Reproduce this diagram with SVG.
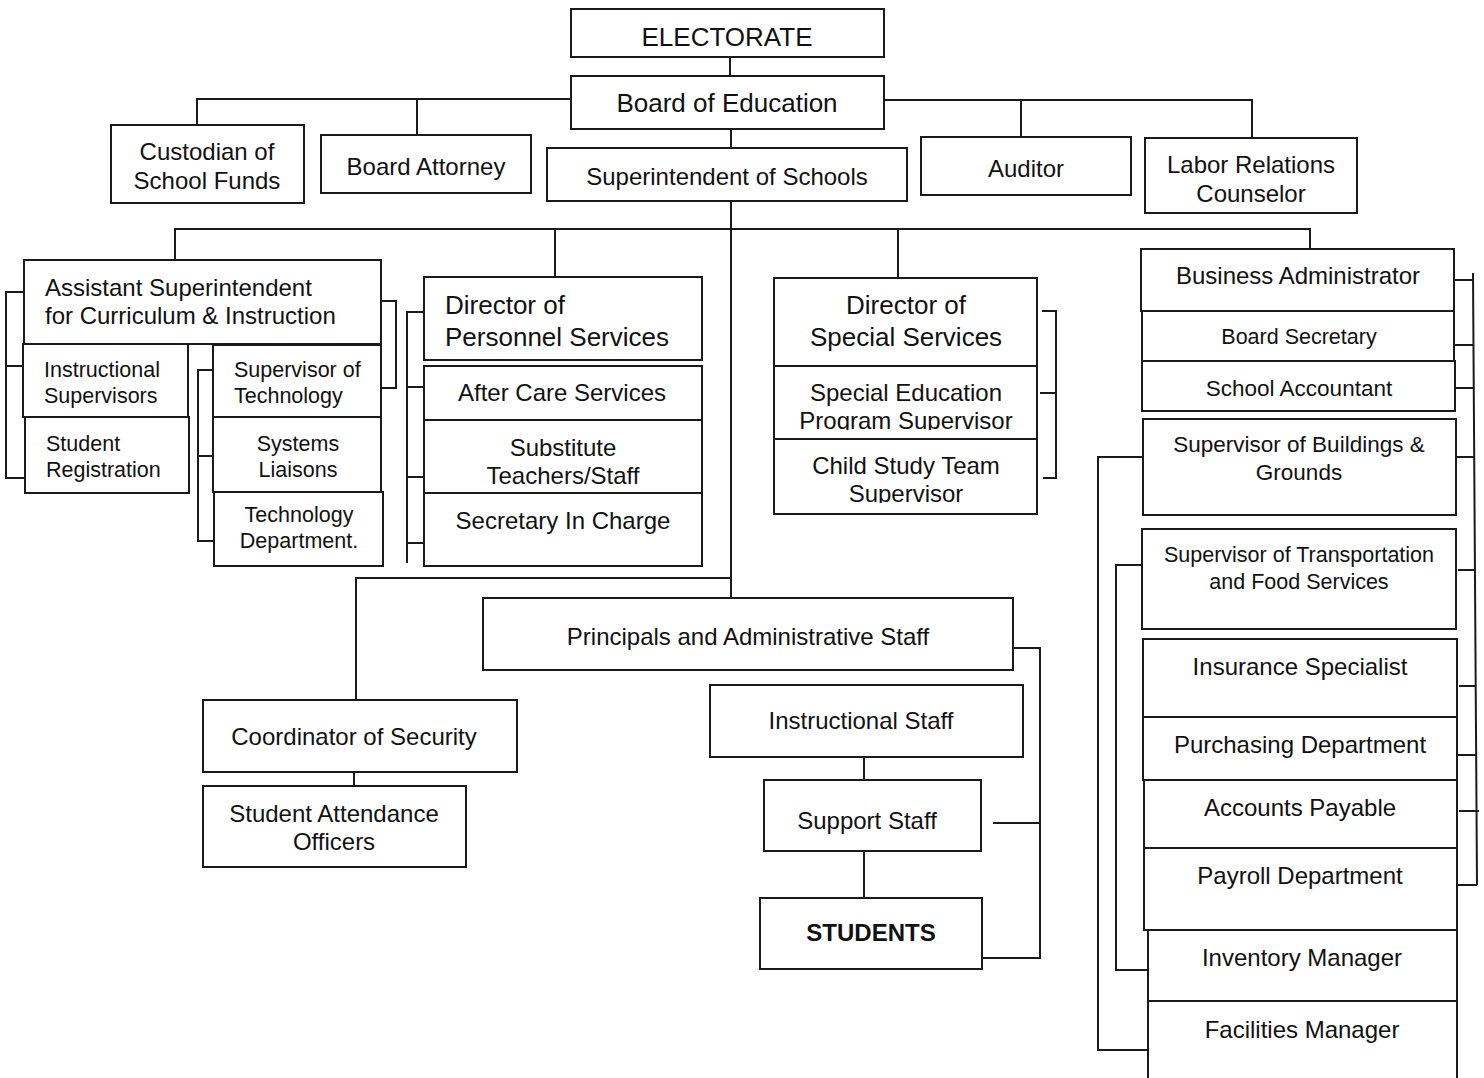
<svg xmlns="http://www.w3.org/2000/svg" width="1484" height="1078" viewBox="0 0 1484 1078">
<style>
.box{fill:#fff;stroke:#1a1a1a;stroke-width:2}
.ln{fill:none;stroke:#1a1a1a;stroke-width:2}
text{font-family:"Liberation Sans",Arial,sans-serif;fill:#111;text-anchor:middle}
.t26{font-size:26px}
.t24{font-size:24px}
.t22{font-size:22.5px}
.t21{font-size:21.5px}
.l{text-anchor:start}
.b{font-weight:bold}
</style>
<defs>
<clipPath id="clipSE"><rect x="775" y="367" width="261" height="63"/></clipPath>
<clipPath id="clipCS"><rect x="775" y="440" width="261" height="63"/></clipPath>
</defs>
<rect width="1484" height="1078" fill="#fff"/>
<g id="connectors" class="ln">
<path d="M730 57V76"/>
<path d="M571 99H197V125M417 99V135"/>
<path d="M884 100H1252V138M1021 100V137"/>
<path d="M731 129V148"/>
<path d="M731 201V598"/>
<path d="M175 260V229H1310V249M555 229V277M898 229V278"/>
<path d="M731 578H356V700"/>
<path d="M354 772V786"/>
<path d="M24 292H6V478H25M6 366H23"/>
<path d="M213 370H198V541H214M198 456H213"/>
<path d="M381 301H396V388H381"/>
<path d="M424 312H407V563M407 387H424M407 477H424M407 543H424"/>
<path d="M1042 311H1056V478H1043M1040 393H1056"/>
<path d="M1473 273L1477 885M1454 280H1473M1455 345H1474M1455 388H1474M1456 457H1474M1458 570H1475M1459 686H1476M1457 755H1476M1459 811H1479M1457 885H1477"/>
<path d="M1143 457H1098V1050H1148"/>
<path d="M1142 565H1116V970H1148"/>
<path d="M1013 648H1040V958H983M993 823H1040"/>
<path d="M864 757V780M864 851V898"/>
</g>
<g id="electorate"><rect class="box" x="571" y="9" width="313" height="48"/><text class="t26" x="727" y="46">ELECTORATE</text></g>
<g id="board"><rect class="box" x="571" y="76" width="313" height="53"/><text class="t26" x="727" y="112">Board of Education</text></g>
<g id="custodian"><rect class="box" x="111" y="125" width="193" height="78"/><text class="t24" x="207" y="160">Custodian of</text><text class="t24" x="207" y="189">School Funds</text></g>
<g id="attorney"><rect class="box" x="321" y="135" width="210" height="58"/><text class="t24" x="426" y="175">Board Attorney</text></g>
<g id="superintendent"><rect class="box" x="547" y="148" width="360" height="53"/><text class="t24" x="727" y="185">Superintendent of Schools</text></g>
<g id="auditor"><rect class="box" x="921" y="137" width="210" height="58"/><text class="t24" x="1026" y="177">Auditor</text></g>
<g id="labor"><rect class="box" x="1145" y="138" width="212" height="75"/><text class="t24" x="1251" y="173">Labor Relations</text><text class="t24" x="1251" y="202">Counselor</text></g>

<g id="asst-super"><rect class="box" x="24" y="260" width="357" height="84"/><text class="t24 l" x="45" y="296">Assistant Superintendent</text><text class="t24 l" x="45" y="324">for Curriculum &amp; Instruction</text></g>
<g id="instr-supervisors"><rect class="box" x="23" y="344" width="165" height="73"/><text class="t21 l" x="44" y="377">Instructional</text><text class="t21 l" x="44" y="403">Supervisors</text></g>
<g id="student-registration"><rect class="box" x="25" y="417" width="164" height="76"/><text class="t21 l" x="46" y="451">Student</text><text class="t21 l" x="46" y="477">Registration</text></g>
<g id="sup-technology"><rect class="box" x="213" y="345" width="168" height="72"/><text class="t21 l" x="234" y="377">Supervisor of</text><text class="t21 l" x="234" y="403">Technology</text></g>
<g id="systems-liaisons"><rect class="box" x="213" y="417" width="168" height="75"/><text class="t21" x="298" y="451">Systems</text><text class="t21" x="298" y="477">Liaisons</text></g>
<g id="tech-dept"><rect class="box" x="214" y="492" width="169" height="74"/><text class="t21" x="299" y="522">Technology</text><text class="t21" x="299" y="548">Department.</text></g>

<g id="dir-personnel"><rect class="box" x="424" y="277" width="278" height="83"/><text class="t26 l" x="445" y="314">Director of</text><text class="t26 l" x="445" y="346">Personnel Services</text></g>
<g id="after-care"><rect class="box" x="424" y="366" width="278" height="54"/><text class="t24" x="562" y="401">After Care Services</text></g>
<g id="substitute"><rect class="box" x="424" y="420" width="278" height="73"/><text class="t24" x="563" y="456">Substitute</text><text class="t24" x="563" y="484">Teachers/Staff</text></g>
<g id="secretary-charge"><rect class="box" x="424" y="493" width="278" height="73"/><text class="t24" x="563" y="529">Secretary In Charge</text></g>

<g id="dir-special"><rect class="box" x="774" y="278" width="263" height="88"/><text class="t26" x="906" y="314">Director of</text><text class="t26" x="906" y="346">Special Services</text></g>
<g id="special-ed"><rect class="box" x="774" y="366" width="263" height="73"/><g clip-path="url(#clipSE)"><text class="t24" x="906" y="401">Special Education</text><text class="t24" x="906" y="429">Program Supervisor</text></g></g>
<g id="child-study"><rect class="box" x="774" y="439" width="263" height="75"/><g clip-path="url(#clipCS)"><text class="t24" x="906" y="474">Child Study Team</text><text class="t24" x="906" y="502">Supervisor</text></g></g>

<g id="business-admin"><rect class="box" x="1141" y="249" width="313" height="62"/><text class="t24" x="1298" y="284">Business Administrator</text></g>
<g id="board-secretary"><rect class="box" x="1142" y="311" width="312" height="50"/><text class="t21" x="1299" y="344">Board Secretary</text></g>
<g id="school-accountant"><rect class="box" x="1142" y="361" width="313" height="50"/><text class="t22" x="1299" y="396">School Accountant</text></g>
<g id="buildings"><rect class="box" x="1143" y="419" width="313" height="96"/><text class="t22" x="1299" y="452">Supervisor of Buildings &amp;</text><text class="t22" x="1299" y="480">Grounds</text></g>
<g id="transportation"><rect class="box" x="1142" y="529" width="314" height="100"/><text class="t21" x="1299" y="562">Supervisor of Transportation</text><text class="t21" x="1299" y="589">and Food Services</text></g>
<g id="insurance"><rect class="box" x="1143" y="639" width="314" height="78"/><text class="t24" x="1300" y="675">Insurance Specialist</text></g>
<g id="purchasing"><rect class="box" x="1143" y="717" width="314" height="63"/><text class="t24" x="1300" y="753">Purchasing Department</text></g>
<g id="accounts-payable"><rect class="box" x="1144" y="780" width="313" height="68"/><text class="t24" x="1300" y="816">Accounts Payable</text></g>
<g id="payroll"><rect class="box" x="1144" y="848" width="313" height="82"/><text class="t24" x="1300" y="884">Payroll Department</text></g>
<g id="inventory"><rect class="box" x="1148" y="930" width="309" height="71"/><text class="t24" x="1302" y="966">Inventory Manager</text></g>
<g id="facilities"><rect class="box" x="1148" y="1001" width="309" height="90"/><text class="t24" x="1302" y="1038">Facilities Manager</text></g>

<g id="principals"><rect class="box" x="483" y="598" width="530" height="72"/><text class="t24" x="748" y="645">Principals and Administrative Staff</text></g>
<g id="instructional-staff"><rect class="box" x="710" y="685" width="313" height="72"/><text class="t24" x="861" y="729">Instructional Staff</text></g>
<g id="support-staff"><rect class="box" x="764" y="780" width="217" height="71"/><text class="t24" x="867" y="829">Support Staff</text></g>
<g id="students"><rect class="box" x="760" y="898" width="222" height="71"/><text class="t24 b" x="871" y="941">STUDENTS</text></g>

<g id="security"><rect class="box" x="203" y="700" width="314" height="72"/><text class="t24" x="354" y="745">Coordinator of Security</text></g>
<g id="attendance"><rect class="box" x="203" y="786" width="263" height="81"/><text class="t24" x="334" y="822">Student Attendance</text><text class="t24" x="334" y="850">Officers</text></g>
</svg>
